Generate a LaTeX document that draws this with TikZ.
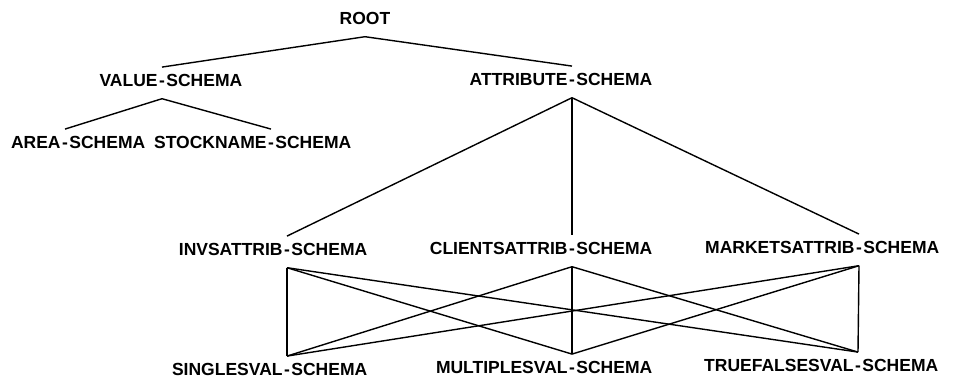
\documentclass[tikz,border=0pt]{standalone}
\usepackage{fontspec}
\setmainfont{Liberation Sans}
\usetikzlibrary{positioning}

% label centred on its hyphen, so the tree lines meet the hyphen
\newcommand{\hyphlabel}[2]{\llap{#1\kern1.5pt}-\rlap{\kern1.5pt#2}}

\begin{document}
\begin{tikzpicture}[
        x=1pt, y=-1pt,
        schema/.style={
            font=\fontsize{17.5}{20}\selectfont\bfseries,
            inner xsep=0pt,
            inner ysep=6.5pt,
            text depth=6pt,
            anchor=base
        },
        link/.style={line width=1.4pt, draw=black}
    ]
        \useasboundingbox (0,0) rectangle (972,378);

        % Top of the hierarchy
        \node[schema] (root) at (365,24) {ROOT};

        \node[schema] (value) at (162,86) {\hyphlabel{VALUE}{SCHEMA}};
        \node[schema] (attribute) at (572,85) {\hyphlabel{ATTRIBUTE}{SCHEMA}};

        \node[schema] (area) at (65,148) {\hyphlabel{AREA}{SCHEMA}};
        \node[schema] (stockname) at (271,148) {\hyphlabel{STOCKNAME}{SCHEMA}};

        \draw[link] (root.south) -- (value.north);
        \draw[link] (root.south) -- (attribute.north);
        \draw[link] (value.south) -- (area.north);
        \draw[link] (value.south) -- (stockname.north);

        % Attribute schemas
        \node[schema] (invsattrib) at (287,255) {\hyphlabel{INVSATTRIB}{SCHEMA}};
        \node[schema] (clientsattrib) at (572,254) {\hyphlabel{CLIENTSATTRIB}{SCHEMA}};
        \node[schema] (marketsattrib) at (859,253) {\hyphlabel{MARKETSATTRIB}{SCHEMA}};

        \draw[link] (attribute.south) -- (invsattrib.north);
        \draw[link] (attribute.south) -- (clientsattrib.north);
        \draw[link] (attribute.south) -- (marketsattrib.north);

        % Value kinds, each reachable from every attribute schema
        \node[schema] (singlesval) at (287,375) {\hyphlabel{SINGLESVAL}{SCHEMA}};
        \node[schema] (multiplesval) at (572,373) {\hyphlabel{MULTIPLESVAL}{SCHEMA}};
        \node[schema] (truefalsesval) at (858,371) {\hyphlabel{TRUEFALSESVAL}{SCHEMA}};

        \draw[link] (invsattrib.south) -- (singlesval.north);
        \draw[link] (invsattrib.south) -- (multiplesval.north);
        \draw[link] (invsattrib.south) -- (truefalsesval.north);
        \draw[link] (clientsattrib.south) -- (singlesval.north);
        \draw[link] (clientsattrib.south) -- (multiplesval.north);
        \draw[link] (clientsattrib.south) -- (truefalsesval.north);
        \draw[link] (marketsattrib.south) -- (singlesval.north);
        \draw[link] (marketsattrib.south) -- (multiplesval.north);
        \draw[link] (marketsattrib.south) -- (truefalsesval.north);
    \end{tikzpicture}
\end{document}
